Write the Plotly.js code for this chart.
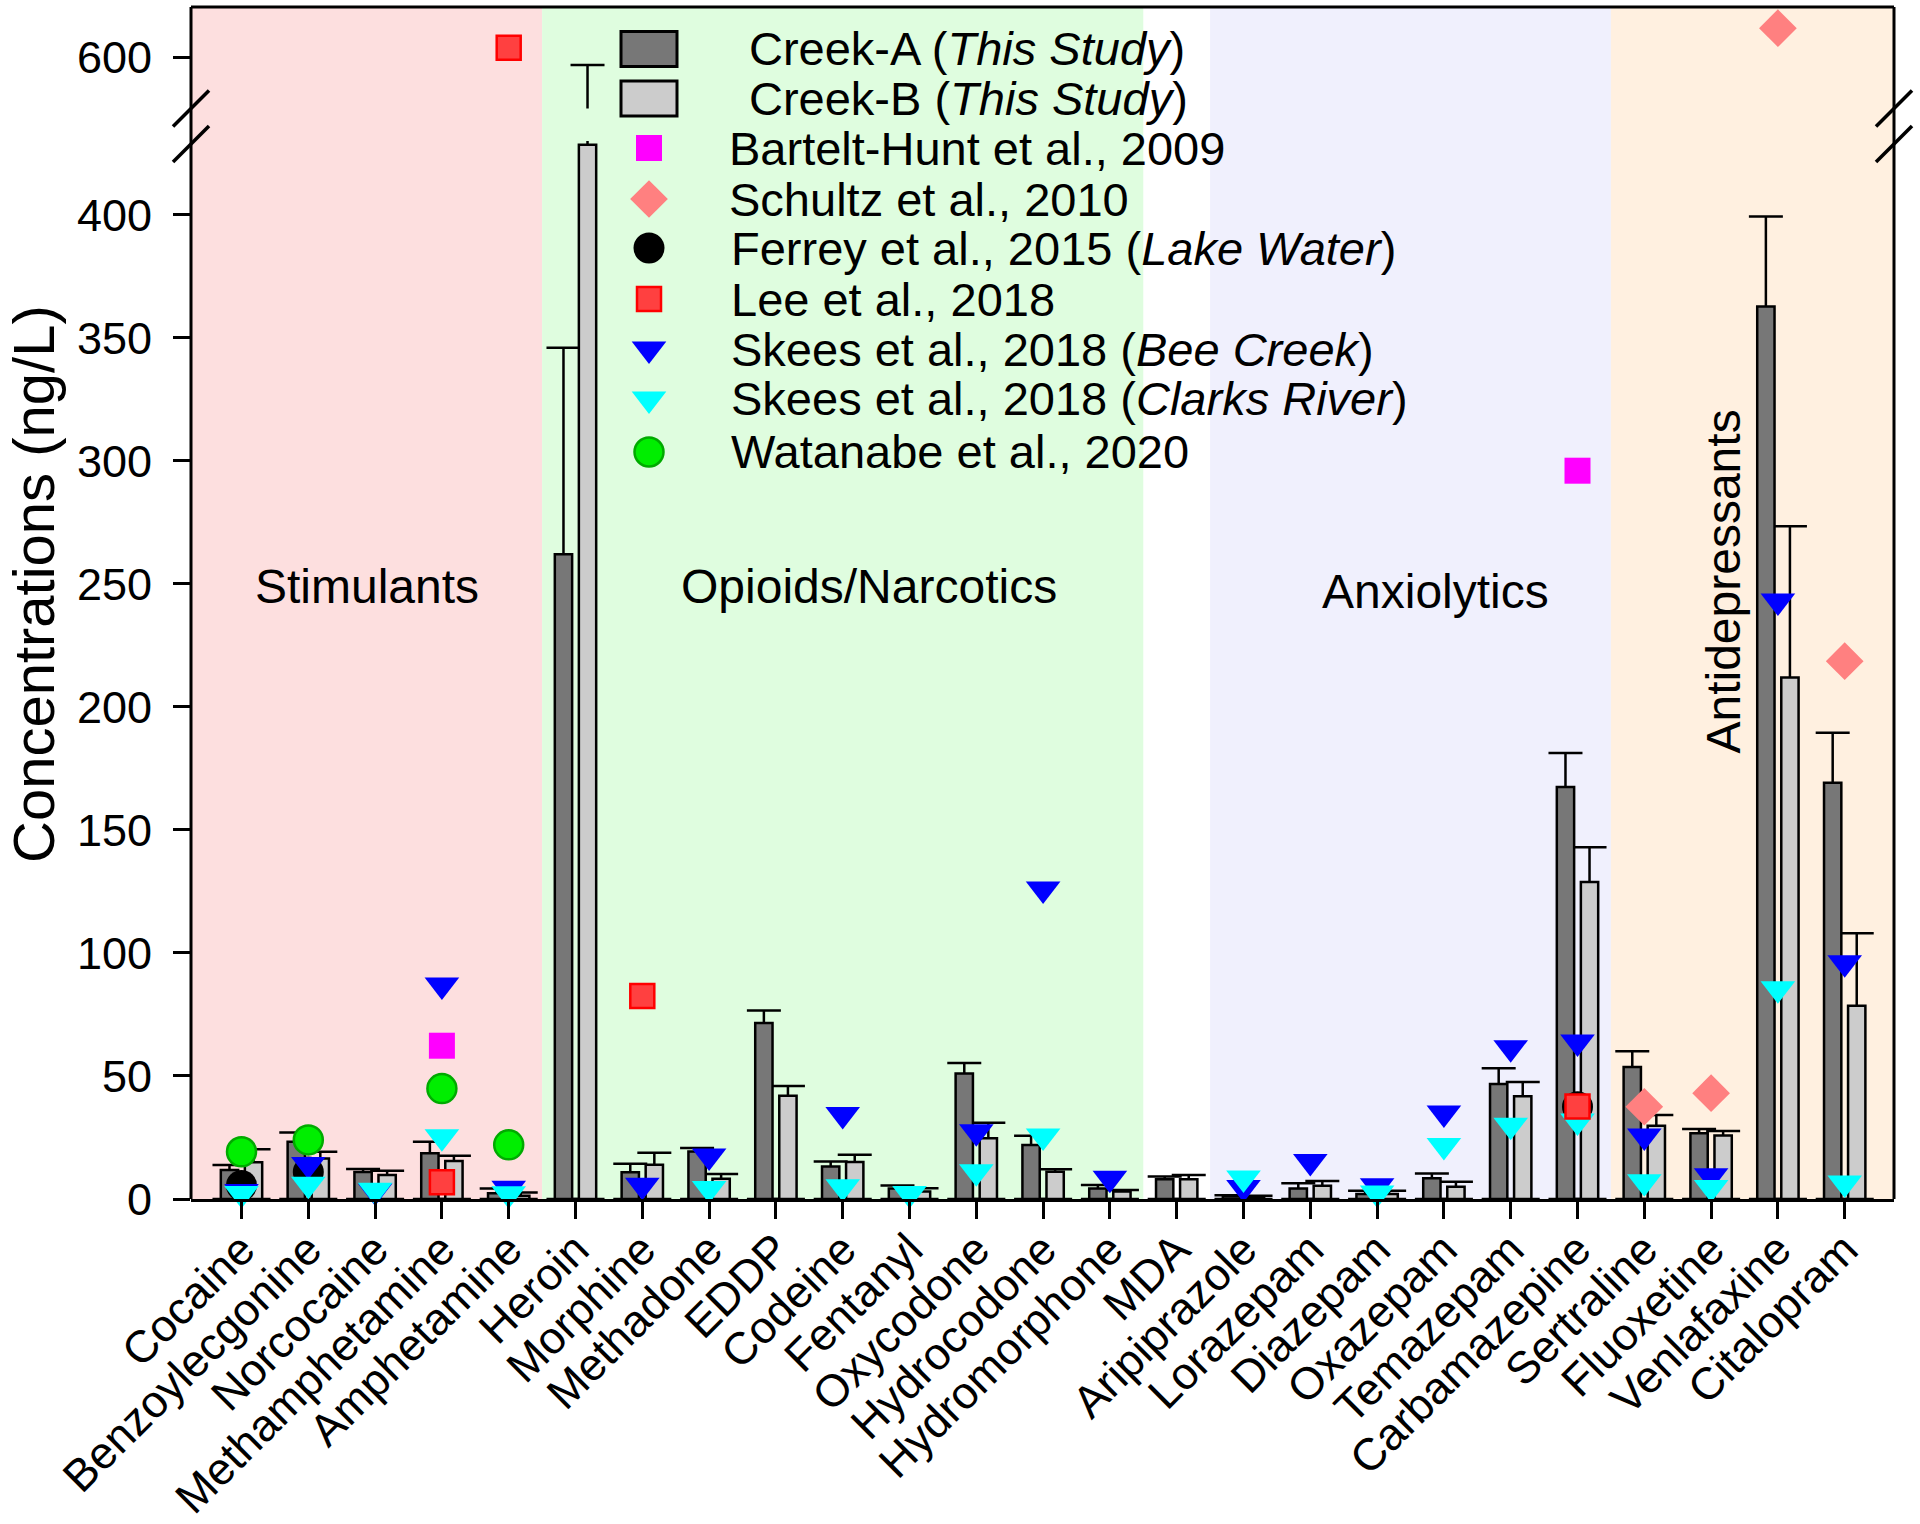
<!DOCTYPE html>
<html><head><meta charset="utf-8">
<script src="https://cdn.plot.ly/plotly-3.0.1.min.js"></script>
<style>html,body{margin:0;padding:0;background:#fff}#chart{width:1920px;height:1524px}</style>
</head><body><div id="chart"></div>
<script>
// ---------------- DATA ----------------
const categories = ['Cocaine','Benzoylecgonine','Norcocaine','Methamphetamine','Amphetamine','Heroin','Morphine','Methadone','EDDP','Codeine','Fentanyl','Oxycodone','Hydrocodone','Hydromorphone','MDA','Aripiprazole','Lorazepam','Diazepam','Oxazepam','Temazepam','Carbamazepine','Sertraline','Fluoxetine','Venlafaxine','Citalopram'];

const creekA    = [11.8, 23.3, 11, 18.6, 2.3, 262, 10.9, 19.3, 71.5, 13.2, 4.3, 51, 21.9, 4.3, 8, 1.1, 4.3, 2, 8.4, 46.7, 167.4, 53.6, 26.7, 362.7, 169.2];
const creekAErr = [2, 3.7, 1.2, 4.7, 2, 84, 3.4, 1.4, 5.1, 2, 1.2, 4.3, 3.8, 1.4, 1.1, 0.4, 2.1, 1.4, 2, 6.4, 13.9, 6.4, 1.7, 36.6, 20.3];
const creekB    = [14.9, 16.5, 9.8, 15.4, 1.3, 428.5, 13.9, 8.2, 42, 15, 3, 24.7, 11.1, 3, 8, 0.9, 5.4, 2, 5, 41.8, 128.8, 29.8, 25.8, 212, 78.5];
const creekBErr = [5.3, 2.7, 1.7, 2.2, 1.3, 168.5, 4.9, 2, 3.9, 3, 1.4, 6.3, 1, 0.7, 1.8, 0.4, 1.9, 1.4, 2, 5.8, 14.2, 4.3, 1.8, 61.4, 29.5];

const barteltHunt2009 = [null,null,null,62.3,null, null,null,null,null,null,null,null,null,null, null, null,null,null,null,null,296, null,null,null,null];
const schultz2010     = [null,null,null,null,null, null,null,null,null,null,null,null,null,null, null, null,null,null,null,null,null, 37.5,43,612,218.6];
const ferrey2015      = [5.5,11,null,null,null, null,null,null,null,null,null,null,null,null, null, null,null,null,null,null,37.5, null,null,null,null];
const watanabe2020    = [19.2,24,null,44.9,22, null,null,null,null,null,null,null,null,null, null, null,null,null,null,null,null, null,null,null,null];
const skeesBee2018    = [3,14,3.3,87,4.4, null,5.6,17.5,null,34.3,null,27.3,126,8.4, null, 4.7,15.2,5.4,35,61.5,63.8, 25.6,9.5,243,96];
const skeesClarks2018 = [2.2,6,3.6,25.3,2.1, null,null,4.3,null,5,2.2,11.1,25.6,null, null, 8.5,null,2.4,21.7,30,31.7, 7,4.7,85.5,6.5];
const lee2018         = [null,null,null,6.8,604, null,82.5,null,null,null,null,null,null,null, null, null,null,null,null,null,37.6, null,null,null,null];

const drugClasses = [
  {name:'Stimulants', first:0, last:4},
  {name:'Opioids/Narcotics', first:5, last:13},
  {name:'Anxiolytics', first:15, last:20},
  {name:'Antidepressants', first:21, last:24}
];

// ---------------- STYLE / GEOMETRY ----------------
const FONT = 'Arial, "Liberation Sans", sans-serif';
const W = 1920, H = 1524;
const PL = 191, PR = 1894, PT = 7, PB = 1199;
const PW = PR - PL, PH = PB - PT;
const px2paperX = px => (px - PL) / PW;
const px2paperY = py => (PB - py) / PH;

const LOW_MAX = 430;
const UP_RANGE = [579.3, 620.6];
const LOW_DOMAIN = [0, px2paperY(141)];
const UP_DOMAIN = [px2paperY(108.5), 1];
const XRANGE = [-0.756, 24.738];

const classColors = ['#FDDFDF', '#DFFDDF', '#F0F0FD', '#FFF0E0'];

const markerStyles = {
  bartelt: {symbol:'square', size:26, color:'#FF00FF'},
  schultz: {symbol:'diamond', size:29, color:'#FF8080'},
  ferrey: {symbol:'circle', size:31, color:'#000000'},
  lee: {symbol:'square', size:24, color:'#FF4040', line:{color:'#FF0000', width:2.5}},
  bee: {symbol:'triangle-down', size:30, color:'#0000FF'},
  clarks: {symbol:'triangle-down', size:30, color:'#00FFFF'},
  watanabe: {symbol:'circle', size:29, color:'#00EE00', line:{color:'#00AA00', width:2.5}}
};

const barStyle = {
  A: {color:'#777777', line:{color:'#000000', width:2.5}},
  B: {color:'#CCCCCC', line:{color:'#000000', width:2.5}}
};

// ---------------- TRACES ----------------
const traces = [];
function errCarrier(vals, errs, group, yaxis) {
  return {
    type:'bar', x:categories, y:vals, offsetgroup:group, yaxis:yaxis,
    marker:{color:'rgba(0,0,0,0)', line:{width:0}},
    error_y:{type:'data', symmetric:false, array:errs, arrayminus:vals, width:17, thickness:2.5, color:'#000000'},
    hoverinfo:'skip', showlegend:false
  };
}
traces.push(errCarrier(creekA, creekAErr, 'A', 'y'));
traces.push(errCarrier(creekB, creekBErr, 'B', 'y'));
traces.push({type:'bar', x:categories, y:creekA, offsetgroup:'A', marker:barStyle.A, name:'Creek-A', showlegend:false});
traces.push({type:'bar', x:categories, y:creekB, offsetgroup:'B', marker:barStyle.B, name:'Creek-B', showlegend:false});
traces.push(errCarrier(creekA, creekAErr, 'A', 'y2'));
traces.push(errCarrier(creekB, creekBErr, 'B', 'y2'));

function addSeries(vals, style, name) {
  const low = vals.map(v => (v != null && v <= LOW_MAX) ? v : null);
  const up = vals.map(v => (v != null && v > LOW_MAX) ? v : null);
  traces.push({type:'scatter', mode:'markers', x:categories, y:low, marker:style, name:name, cliponaxis:false, showlegend:false});
  if (up.some(v => v != null)) {
    traces.push({type:'scatter', mode:'markers', x:categories, y:up, yaxis:'y2', marker:style, name:name, cliponaxis:false, showlegend:false});
  }
}
addSeries(barteltHunt2009, markerStyles.bartelt, 'Bartelt-Hunt et al., 2009');
addSeries(schultz2010, markerStyles.schultz, 'Schultz et al., 2010');
addSeries(ferrey2015, markerStyles.ferrey, 'Ferrey et al., 2015');
addSeries(watanabe2020, markerStyles.watanabe, 'Watanabe et al., 2020');
addSeries(skeesBee2018, markerStyles.bee, 'Skees et al., 2018 (Bee Creek)');
addSeries(skeesClarks2018, markerStyles.clarks, 'Skees et al., 2018 (Clarks River)');
addSeries(lee2018, markerStyles.lee, 'Lee et al., 2018');

// ---------------- CUSTOM LEGEND ----------------
const legendRows = [
  {kind:'bar', style:barStyle.A, text:'Creek-A (<i>This Study</i>)', tx:747},
  {kind:'bar', style:barStyle.B, text:'Creek-B (<i>This Study</i>)', tx:747},
  {kind:'marker', style:markerStyles.bartelt, text:'Bartelt-Hunt et al., 2009', tx:727},
  {kind:'marker', style:markerStyles.schultz, text:'Schultz et al., 2010', tx:727},
  {kind:'marker', style:markerStyles.ferrey, text:'Ferrey et al., 2015 (<i>Lake Water</i>)', tx:729},
  {kind:'marker', style:markerStyles.lee, text:'Lee et al., 2018', tx:729},
  {kind:'marker', style:markerStyles.bee, text:'Skees et al., 2018 (<i>Bee Creek</i>)', tx:729},
  {kind:'marker', style:markerStyles.clarks, text:'Skees et al., 2018 (<i>Clarks River</i>)', tx:729},
  {kind:'marker', style:markerStyles.watanabe, text:'Watanabe et al., 2020', tx:729}
];
const legendRowY = [49, 98.5, 148, 199, 248, 299, 349, 399, 452];
const legendSymX = 649;

const shapes = [];
const annotations = [];

drugClasses.forEach((g, i) => {
  const x0 = (i === 0) ? XRANGE[0] : g.first - 0.5;
  const x1 = (i === drugClasses.length - 1) ? XRANGE[1] : g.last + 0.5;
  shapes.push({type:'rect', layer:'below', xref:'x', yref:'paper',
    x0:x0, x1:x1, y0:0, y1:1, fillcolor:classColors[i], line:{width:0}});
});

legendRows.forEach((r, i) => {
  const y = legendRowY[i];
  if (r.kind === 'bar') {
    shapes.push({type:'rect', xref:'paper', yref:'paper', layer:'above',
      x0:px2paperX(legendSymX - 28), x1:px2paperX(legendSymX + 28),
      y0:px2paperY(y + 17.5), y1:px2paperY(y - 17.5),
      fillcolor:r.style.color, line:{color:'#000000', width:3}});
  } else {
    traces.push({type:'scatter', mode:'markers', x:[legendSymX], y:[y], xaxis:'x3', yaxis:'y3',
      marker:r.style, cliponaxis:false, hoverinfo:'skip', showlegend:false});
  }
  annotations.push({xref:'paper', yref:'paper', x:px2paperX(r.tx), y:px2paperY(y),
    xanchor:'left', yanchor:'middle', showarrow:false, text:r.text,
    font:{family:FONT, size:47, color:'#000000'}});
});

// class labels
const labelFont = {family:FONT, size:48, color:'#000'};
annotations.push({xref:'x', yref:'y', x:1.88, y:249, text:'Stimulants', showarrow:false, font:labelFont});
annotations.push({xref:'x', yref:'y', x:9.39, y:249, text:'Opioids/Narcotics', showarrow:false, font:labelFont});
annotations.push({xref:'x', yref:'y', x:17.88, y:247, text:'Anxiolytics', showarrow:false, font:labelFont});
annotations.push({xref:'x', yref:'y', x:22.18, y:251, text:'Antidepressants', textangle:-90, showarrow:false, font:labelFont});

// y-axis title (centred on the whole broken axis)
annotations.push({xref:'paper', yref:'paper', x:px2paperX(33), y:px2paperY(584), xanchor:'center', yanchor:'middle',
  text:'Concentrations (ng/L)', textangle:-90, showarrow:false, font:{family:FONT, size:58, color:'#000'}});

// frame
shapes.push({type:'line', xref:'paper', yref:'paper', x0:0, x1:0, y0:0, y1:1, layer:'above', line:{color:'#000', width:3}});
shapes.push({type:'line', xref:'paper', yref:'paper', x0:1, x1:1, y0:0, y1:1, layer:'above', line:{color:'#000', width:3}});
shapes.push({type:'line', xref:'paper', yref:'paper', x0:0, x1:1, y0:1, y1:1, layer:'above', line:{color:'#000', width:3}});
// axis break marks
[0, 1].forEach(xa => {
  [px2paperY(108.5), px2paperY(144)].forEach(ya => {
    shapes.push({type:'line', xref:'paper', yref:'paper', xsizemode:'pixel', ysizemode:'pixel',
      xanchor:xa, yanchor:ya, x0:-18, x1:18, y0:-18, y1:18, layer:'above',
      line:{color:'#000', width:3.5}});
  });
});

const tickCommon = {ticks:'outside', ticklen:17, tickwidth:3, tickcolor:'#000',
  tickfont:{family:FONT, size:45, color:'#000'}, showgrid:false, zeroline:false};

const layout = {
  width:W, height:H,
  margin:{l:PL, r:W - PR, t:PT, b:H - PB, pad:0},
  paper_bgcolor:'#FFFFFF', plot_bgcolor:'rgba(0,0,0,0)',
  font:{family:FONT, color:'#000'},
  barmode:'group', bargap:0.28, bargroupgap:0.28,
  showlegend:false,
  xaxis: Object.assign({}, tickCommon, {anchor:'y', domain:[0,1], type:'category', range:XRANGE,
    showline:true, linewidth:3, linecolor:'#000', tickangle:-45, ticklabelstandoff:-14}),
  yaxis: Object.assign({}, tickCommon, {anchor:'x', domain:LOW_DOMAIN, range:[0, LOW_MAX], tick0:0, dtick:50,
    showline:false, ticklabelstandoff:12}),
  yaxis2: Object.assign({}, tickCommon, {anchor:'x', domain:UP_DOMAIN, range:UP_RANGE, tickmode:'array', tickvals:[600],
    showline:false, ticklabelstandoff:12}),
  xaxis3: {domain:[0,1], range:[PL, PR], visible:false, anchor:'y3', fixedrange:true},
  yaxis3: {domain:[0,1], range:[PB, PT], visible:false, anchor:'x3', fixedrange:true},
  shapes: shapes,
  annotations: annotations
};

Plotly.newPlot('chart', traces, layout, {staticPlot:true, displayModeBar:false});
</script></body></html>
